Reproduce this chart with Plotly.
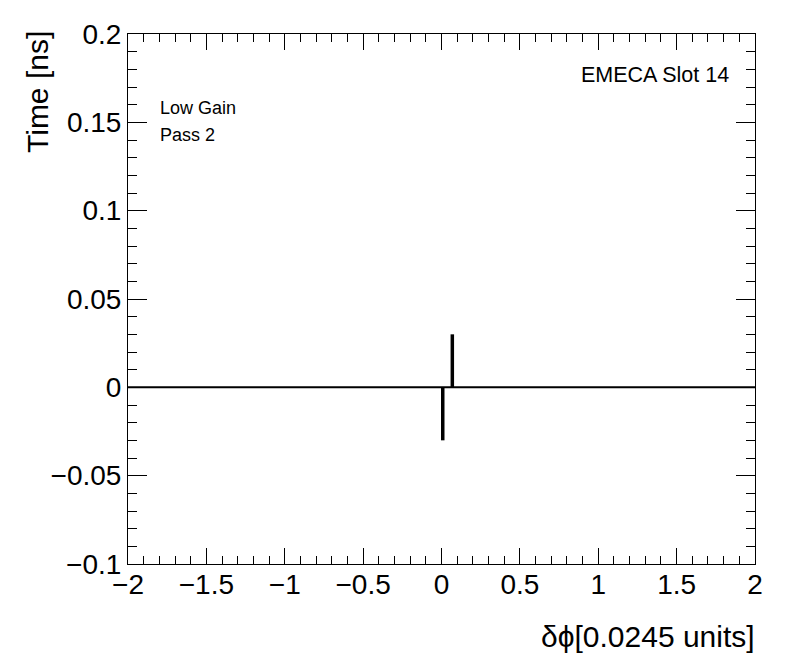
import plotly.graph_objects as go

# ---- data ----
x_range = [-2.0, 2.0]
y_range = [-0.1, 0.2]
baseline_value = 0.0
spike_x = [0.008, 0.069]
spike_y = [-0.03, 0.03]

x_tickvals = [-2, -1.5, -1, -0.5, 0, 0.5, 1, 1.5, 2]
x_ticktext = ["\u22122", "\u22121.5", "\u22121", "\u22120.5", "0", "0.5", "1", "1.5", "2"]
y_tickvals = [-0.1, -0.05, 0, 0.05, 0.1, 0.15, 0.2]
y_ticktext = ["\u22120.1", "\u22120.05", "0", "0.05", "0.1", "0.15", "0.2"]

x_title = "\u03b4\u03d5[0.0245 units]"
y_title = "Time [ns]"
label_top_right = "EMECA Slot 14"
label_lines = ["Low Gain", "Pass 2"]

FONT = "Liberation Sans, Arial, Helvetica, sans-serif"

fig = go.Figure()

# baseline (all-zero bins)
fig.add_trace(go.Scatter(
    x=x_range, y=[baseline_value, baseline_value], mode="lines",
    line=dict(color="black", width=2), hoverinfo="skip", showlegend=False))

# spikes (narrow non-zero bins)
sx, sy = [], []
for xv, yv in zip(spike_x, spike_y):
    sx += [xv, xv, None]
    sy += [baseline_value, yv, None]
fig.add_trace(go.Scatter(
    x=sx, y=sy, mode="lines",
    line=dict(color="black", width=3.5), hoverinfo="skip", showlegend=False))

# page body has an 8px margin; the figure is sized to fit the window
OFF = 8
W, H = 796 - OFF, 672 - OFF
L, R, T, B = 128 - OFF, 41, 34 - OFF, 108
pw, ph = W - L - R, H - T - B

fig.update_layout(
    width=W, height=H,
    margin=dict(l=L, r=R, t=T, b=B),
    paper_bgcolor="white", plot_bgcolor="white",
    font=dict(family=FONT, color="black"),
    showlegend=False,
)

fig.update_xaxes(
    range=x_range, showgrid=False, zeroline=False,
    showline=True, linecolor="black", linewidth=1, mirror="ticks",
    ticks="inside", ticklen=16, tickwidth=1, tickcolor="black",
    tickvals=x_tickvals, ticktext=x_ticktext,
    tickfont=dict(size=28, family=FONT, color="black"),
    ticklabelstandoff=-5,
    minor=dict(dtick=0.1, tick0=0, ticks="inside", ticklen=8, tickwidth=1,
               tickcolor="black", showgrid=False),
)
fig.update_yaxes(
    range=y_range, showgrid=False, zeroline=False,
    showline=True, linecolor="black", linewidth=1, mirror="ticks",
    ticks="inside", ticklen=19, tickwidth=1, tickcolor="black",
    tickvals=y_tickvals, ticktext=y_ticktext,
    tickfont=dict(size=28, family=FONT, color="black"),
    minor=dict(dtick=0.01, tick0=0, ticks="inside", ticklen=9, tickwidth=1,
               tickcolor="black", showgrid=False),
)

# helpers: convert window pixel positions to paper coordinates
def px_x(p):
    return (p - OFF - L) / pw

def px_y(p):
    return 1 - (p - OFF - T) / ph

anns = [
    dict(text=y_title, textangle=-90, x=px_x(38), y=px_y(29),
         xanchor="center", yanchor="top", font=dict(size=30)),
    dict(text=x_title, x=px_x(757), y=px_y(636),
         xanchor="right", yanchor="middle", font=dict(size=30)),
    dict(text=label_top_right, x=px_x(731), y=px_y(75),
         xanchor="right", yanchor="middle", font=dict(size=21.5)),
    dict(text=label_lines[0], x=px_x(158), y=px_y(108),
         xanchor="left", yanchor="middle", font=dict(size=18)),
    dict(text=label_lines[1], x=px_x(158), y=px_y(135),
         xanchor="left", yanchor="middle", font=dict(size=18)),
]
for a in anns:
    a.update(xref="paper", yref="paper", showarrow=False)
    a["font"].update(family=FONT, color="black")
    fig.add_annotation(**a)

fig.write_html("out.html")
